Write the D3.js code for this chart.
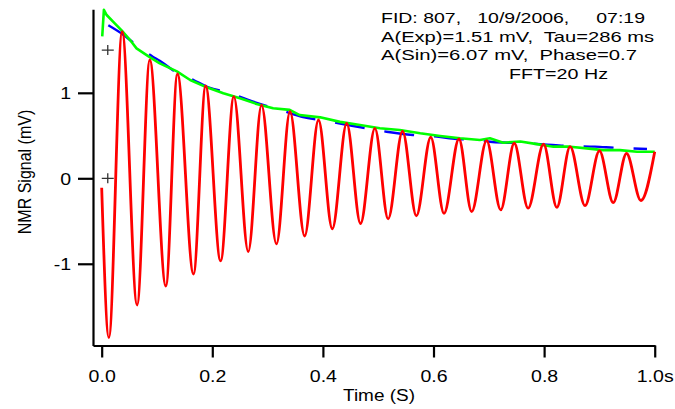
<!DOCTYPE html>
<html><head><meta charset="utf-8">
<script src="https://cdn.jsdelivr.net/npm/d3@7"></script>
<style>
html,body{margin:0;padding:0;background:#fff;}
svg{display:block;}
text{font-family:"Liberation Sans",Arial,Helvetica,sans-serif;fill:#000;}
</style>
</head><body>
<svg id="chart" width="675" height="409"></svg>
<script>
// ---- data ----
const redT = [0, 0.013, 0.037, 0.064, 0.087, 0.116, 0.137, 0.166, 0.188, 0.215, 0.239, 0.265, 0.289, 0.316, 0.3405, 0.367, 0.392, 0.417, 0.443, 0.468, 0.494, 0.518, 0.544, 0.569, 0.595, 0.619, 0.646, 0.669, 0.696, 0.7215, 0.746, 0.771, 0.799, 0.823, 0.847, 0.874, 0.900, 0.925, 0.949, 0.975, 1.0];
const redV = [-0.11, -1.864, 1.715, -1.482, 1.384, -1.26, 1.22, -1.12, 1.08, -0.967, 0.955, -0.858, 0.857, -0.768, 0.78, -0.675, 0.682, -0.59, 0.643, -0.53, 0.585, -0.475, 0.553, -0.44, 0.48, -0.41, 0.46, -0.39, 0.44, -0.37, 0.41, -0.35, 0.40, -0.34, 0.37, -0.32, 0.32, -0.285, 0.29, -0.26, 0.31];

const greenT = [0.001, 0.004, 0.009, 0.021, 0.036, 0.051, 0.063, 0.084, 0.105, 0.136, 0.160, 0.190, 0.220, 0.250, 0.280, 0.310, 0.340, 0.358, 0.395, 0.431, 0.467, 0.503, 0.539, 0.576, 0.612, 0.648, 0.684, 0.702, 0.726, 0.757, 0.787, 0.817, 0.847, 0.877, 0.907, 0.937, 0.968, 1.0];
const greenV = [1.66, 1.97, 1.91, 1.83, 1.73, 1.62, 1.52, 1.43, 1.345, 1.25, 1.15, 1.064, 0.995, 0.936, 0.87, 0.82, 0.80, 0.74, 0.713, 0.66, 0.623, 0.585, 0.565, 0.526, 0.495, 0.468, 0.448, 0.468, 0.416, 0.43, 0.40, 0.37, 0.37, 0.35, 0.33, 0.33, 0.31, 0.31];

const blueT = [0.012, 0.039, 0.066, 0.093, 0.105, 0.133, 0.166, 0.193, 0.232, 0.265, 0.325, 0.362, 0.413, 0.455, 0.515, 0.563, 0.606, 0.642, 0.684, 0.702, 0.738, 0.799, 0.835, 0.892, 0.928, 0.986];
const blueV = [1.79, 1.68, 1.54, 1.42, 1.375, 1.247, 1.15, 1.064, 0.998, 0.916, 0.795, 0.72, 0.662, 0.612, 0.545, 0.506, 0.487, 0.46, 0.448, 0.428, 0.416, 0.397, 0.38, 0.37, 0.358, 0.343];

const cursorT = [0.011, 0.011];
const cursorV = [1.5, 0];

const timeTicks = [0, 0.2, 0.4, 0.6, 0.8, 1.0];
const timeTickLabels = ["0.0", "0.2", "0.4", "0.6", "0.8", "1.0s"];
const signalTicks = [-1, 0, 1];
const signalTickLabels = ["-1", "0", "1"];

const infoLines = ["FID: 807,   10/9/2006,     07:19", "A(Exp)=1.51 mV,  Tau=286 ms", "A(Sin)=6.07 mV,  Phase=0.7", "FFT=20 Hz"];
const xTitle = "Time (S)";
const yTitle = "NMR Signal (mV)";

// ---- drawing ----
const svg = d3.select("#chart");
const x = d3.scaleLinear().domain([-0.0157, 1.0005]).range([93, 655]);
const y = d3.scaleLinear().domain([-1.956, 1.977]).range([345.5, 9.3]);
const SX = 1.15; // horizontal text stretch of the reference

const toPts = (T, V) => T.map((t, i) => [t, V[i]]);

// blue fit line
svg.append("path")
  .datum(toPts(blueT, blueV))
  .attr("fill", "none").attr("stroke", "#0000ff").attr("stroke-width", 2.4)
  .attr("stroke-dasharray", "30,20")
  .attr("d", d3.line().x(d => x(d[0])).y(d => y(d[1])).curve(d3.curveMonotoneX));

// green envelope
svg.append("path")
  .datum(toPts(greenT, greenV))
  .attr("fill", "none").attr("stroke", "#00ff00").attr("stroke-width", 2.6)
  .attr("stroke-linejoin", "round")
  .attr("d", d3.line().x(d => x(d[0])).y(d => y(d[1])));

// red signal
svg.append("path")
  .datum(toPts(redT, redV))
  .attr("fill", "none").attr("stroke", "#ff0000").attr("stroke-width", 2.8)
  .attr("stroke-linejoin", "round")
  .attr("d", d3.line().x(d => x(d[0])).y(d => y(d[1])).curve(d3.curveMonotoneX));

// cursor crosses
svg.selectAll(".cur").data(toPts(cursorT, cursorV)).enter().append("path")
  .attr("class", "cur")
  .attr("transform", d => `translate(${x(d[0])},${y(d[1])})`)
  .attr("d", "M-6,0H6M0,-5V5")
  .attr("stroke", "#333").attr("stroke-width", 1.3).attr("fill", "none");

// axes
const xAxis = d3.axisBottom(x).tickValues(timeTicks)
  .tickFormat((d, i) => timeTickLabels[i]).tickSize(12).tickSizeOuter(0);
const gx = svg.append("g").attr("transform", "translate(0,345.5)").call(xAxis);
gx.select(".domain").attr("stroke-width", 2.2);
gx.selectAll(".tick line").attr("stroke-width", 2.2);
gx.selectAll(".tick text")
  .attr("y", 0).attr("dy", null)
  .attr("transform", `translate(0,36) scale(${SX},1)`)
  .style("font-size", "17px").style("font-family", '"Liberation Sans",Arial,sans-serif');

const yAxis = d3.axisLeft(y).tickValues(signalTicks)
  .tickFormat((d, i) => signalTickLabels[i]).tickSize(15).tickSizeOuter(0);
const gy = svg.append("g").attr("transform", "translate(93,0)").call(yAxis);
gy.select(".domain").attr("stroke-width", 2.2);
gy.selectAll(".tick line").attr("stroke-width", 2.2);
gy.selectAll(".tick text")
  .attr("x", 0).attr("dy", "0.36em")
  .attr("transform", `translate(-22,0) scale(${SX},1)`)
  .style("font-size", "17px").style("font-family", '"Liberation Sans",Arial,sans-serif');

// axis titles
svg.append("text").text(xTitle)
  .attr("transform", `translate(379,401) scale(${SX},1)`)
  .attr("text-anchor", "middle").style("font-size", "16.5px");
svg.append("text").text(yTitle)
  .attr("transform", `translate(31,172) rotate(-90) scale(1,${SX})`)
  .attr("text-anchor", "middle").style("font-size", "16px");

// info text
const infoX = [381, 381, 381, 509];
const infoY = [23, 42, 60, 79];
const infoW = [264, 273, 256, 99];
svg.selectAll(".info").data(infoLines).enter().append("text")
  .attr("class", "info")
  .attr("x", (d, i) => infoX[i]).attr("y", (d, i) => infoY[i])
  .attr("textLength", (d, i) => infoW[i]).attr("lengthAdjust", "spacingAndGlyphs")
  .style("white-space", "pre").style("font-size", "15px")
  .text(d => d);
</script>
</body></html>
